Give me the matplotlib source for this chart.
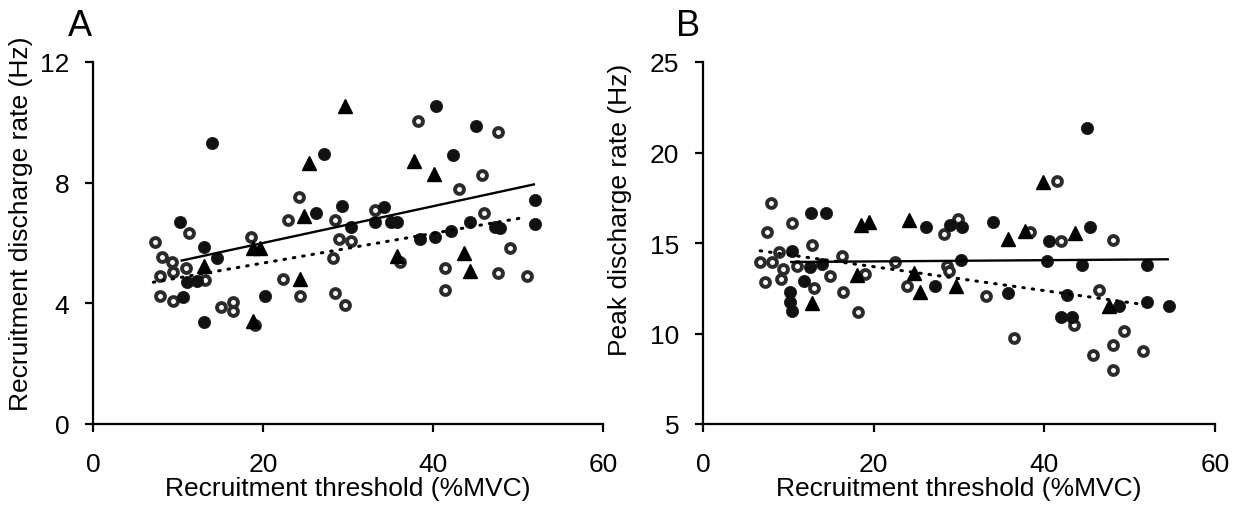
import matplotlib
matplotlib.use("Agg")
import matplotlib.pyplot as plt
import numpy as np

plt.rcParams['font.family'] = ['Liberation Sans', 'DejaVu Sans']

# ---- Panel A: recruitment discharge rate vs recruitment threshold ----
a_open_x = [7.3, 11.3, 8.1, 9.25, 7.9, 9.4, 10.9, 7.9, 9.4, 13.2, 15.1, 16.5, 16.5,
            18.55, 19.1, 22.4, 22.9, 24.2, 24.4, 28.5, 28.9, 28.2, 28.5, 29.7, 30.4,
            33.2, 38.2, 47.7, 45.8, 43.1, 46.0, 36.1, 49.1, 41.4, 41.4, 47.7, 51.1]
a_open_y = [6.04, 6.32, 5.52, 5.36, 4.92, 5.05, 5.17, 4.25, 4.09, 4.78, 3.87, 4.03, 3.76,
            6.21, 3.28, 4.81, 6.76, 7.53, 4.25, 6.77, 6.13, 5.49, 4.34, 3.94, 6.08,
            7.10, 10.05, 9.69, 8.26, 7.79, 6.98, 5.38, 5.83, 5.17, 4.45, 5.00, 4.90]

a_fill_x = [14.0, 10.2, 13.0, 14.55, 11.0, 10.6, 12.2, 13.0, 20.2, 27.2, 26.2, 29.25,
            30.4, 33.2, 34.2, 35.1, 35.8, 38.5, 40.2, 42.1, 44.35, 47.3, 47.9, 52.0,
            52.0, 40.4, 45.1, 42.4]
a_fill_y = [9.31, 6.71, 5.88, 5.50, 4.70, 4.20, 4.75, 3.37, 4.25, 8.95, 6.99, 7.24,
            6.52, 6.68, 7.18, 6.68, 6.71, 6.13, 6.19, 6.41, 6.68, 6.52, 6.50, 7.44,
            6.63, 10.53, 9.89, 8.93]

a_tri_x = [29.6, 25.45, 24.85, 13.0, 18.8, 19.6, 24.4, 18.8, 37.8, 40.1, 35.8, 43.7, 44.4]
a_tri_y = [10.53, 8.64, 6.88, 5.25, 5.82, 5.82, 4.80, 3.42, 8.73, 8.29, 5.56, 5.67, 5.08]

a_fit_solid_x = [10.3, 52.0]
a_fit_solid_y = [5.41, 7.95]
a_fit_dot_x = [7.1, 50.4]
a_fit_dot_y = [4.70, 6.83]

# ---- Panel B: peak discharge rate vs recruitment threshold ----
b_open_x = [7.95, 7.45, 10.4, 12.75, 8.85, 6.7, 8.06, 9.4, 9.1, 7.3, 11.0, 16.3, 14.9,
            12.95, 16.4, 18.2, 19.0, 22.5, 23.9, 28.2, 28.6, 28.8, 29.85, 33.2, 38.3,
            41.5, 41.9, 48.1, 46.4, 36.5, 43.5, 49.3, 48.1, 45.7, 51.6, 48.1]
b_open_y = [17.19, 15.60, 16.09, 14.89, 14.52, 13.93, 13.93, 13.56, 13.00, 12.86, 13.75,
            14.30, 13.20, 12.50, 12.28, 11.17, 13.29, 13.93, 12.60, 15.50, 13.75, 13.44,
            16.33, 12.06, 15.62, 18.44, 15.13, 15.17, 12.42, 9.73, 10.47, 10.15, 9.38,
            8.81, 9.05, 8.00]

b_fill_x = [12.6, 14.4, 10.4, 12.56, 13.9, 11.8, 10.2, 10.2, 10.4, 26.1, 27.15, 28.9,
            30.4, 34.0, 45.3, 40.5, 30.2, 40.3, 44.4, 52.0, 35.7, 42.6, 41.9, 43.3,
            48.7, 52.0, 54.6, 44.95]
b_fill_y = [16.66, 16.66, 14.57, 13.66, 13.84, 12.92, 12.28, 11.72, 11.26, 15.87, 12.60,
            16.00, 15.87, 16.14, 15.87, 15.09, 14.08, 13.99, 13.80, 13.80, 12.24, 12.13,
            10.89, 10.89, 11.50, 11.76, 11.50, 21.34]

b_tri_x = [18.5, 19.5, 24.1, 18.1, 24.7, 25.4, 12.75, 29.6, 39.9, 37.7, 35.7, 43.6, 47.6]
b_tri_y = [15.99, 16.14, 16.29, 13.23, 13.34, 12.28, 11.68, 12.64, 18.35, 15.68, 15.22,
           15.55, 11.50]

b_fit_solid_x = [10.2, 54.6]
b_fit_solid_y = [13.95, 14.10]
b_fit_dot_x = [6.7, 51.2]
b_fit_dot_y = [14.57, 11.63]

x_ticks = [0, 20, 40, 60]
a_yticks = [0, 4, 8, 12]
b_yticks = [5, 10, 15, 20, 25]

x_label = "Recruitment threshold (%MVC)"
a_ylabel = "Recruitment discharge rate (Hz)"
b_ylabel = "Peak discharge rate (Hz)"

FS = 19

fig = plt.figure(figsize=(12.42, 5.06), dpi=100)
axA = fig.add_axes([93 / 1242, 81 / 506, 510 / 1242, 362 / 506])
axB = fig.add_axes([703 / 1242, 81 / 506, 512 / 1242, 362 / 506])


def draw_panel(ax, ox, oy, fx, fy, tx, ty, sx, sy, dx, dy):
    ax.plot(ox, oy, linestyle='none', marker='o', markersize=6.4,
            markerfacecolor='white', markeredgecolor='#2b2b2b',
            markeredgewidth=2.8, zorder=3)
    ax.plot(fx, fy, linestyle='none', marker='o', markersize=8.8,
            markerfacecolor='#111111', markeredgecolor='#111111',
            markeredgewidth=0.5, zorder=3)
    ax.plot(tx, ty, linestyle='none', marker='^', markersize=9.5,
            markerfacecolor='black', markeredgecolor='black', zorder=4)
    ax.plot(sx, sy, color='black', linewidth=1.7, solid_capstyle='butt', zorder=5)
    ax.plot(dx, dy, color='black', linewidth=2.2, linestyle=(0, (0.5, 2.6)),
            dash_capstyle='round', zorder=5)
    for side in ('top', 'right'):
        ax.spines[side].set_visible(False)
    for side in ('left', 'bottom'):
        ax.spines[side].set_linewidth(1.6)
    ax.tick_params(axis='both', direction='out', length=6, width=1.6,
                   labelsize=FS, colors='black')
    ax.tick_params(axis='x', pad=14)
    ax.tick_params(axis='y', pad=11)
    ax.set_xlim(0, 60)
    ax.set_xticks(x_ticks)
    ax.set_xlabel(x_label, fontsize=FS, labelpad=0)


draw_panel(axA, a_open_x, a_open_y, a_fill_x, a_fill_y, a_tri_x, a_tri_y,
           a_fit_solid_x, a_fit_solid_y, a_fit_dot_x, a_fit_dot_y)
axA.set_ylim(0, 12)
axA.set_yticks(a_yticks)
axA.set_ylabel(a_ylabel, fontsize=FS)
axA.yaxis.set_label_coords(-0.118, 0.555)

draw_panel(axB, b_open_x, b_open_y, b_fill_x, b_fill_y, b_tri_x, b_tri_y,
           b_fit_solid_x, b_fit_solid_y, b_fit_dot_x, b_fit_dot_y)
axB.set_ylim(5, 25)
axB.set_yticks(b_yticks)
axB.set_ylabel(b_ylabel, fontsize=FS)
axB.yaxis.set_label_coords(-0.139, 0.595)

fig.text(80 / 1242, 1 - 26 / 506, "A", fontsize=26, ha='center', va='center')
fig.text(688 / 1242, 1 - 26 / 506, "B", fontsize=26, ha='center', va='center')

fig.savefig("out.png", dpi=100)
